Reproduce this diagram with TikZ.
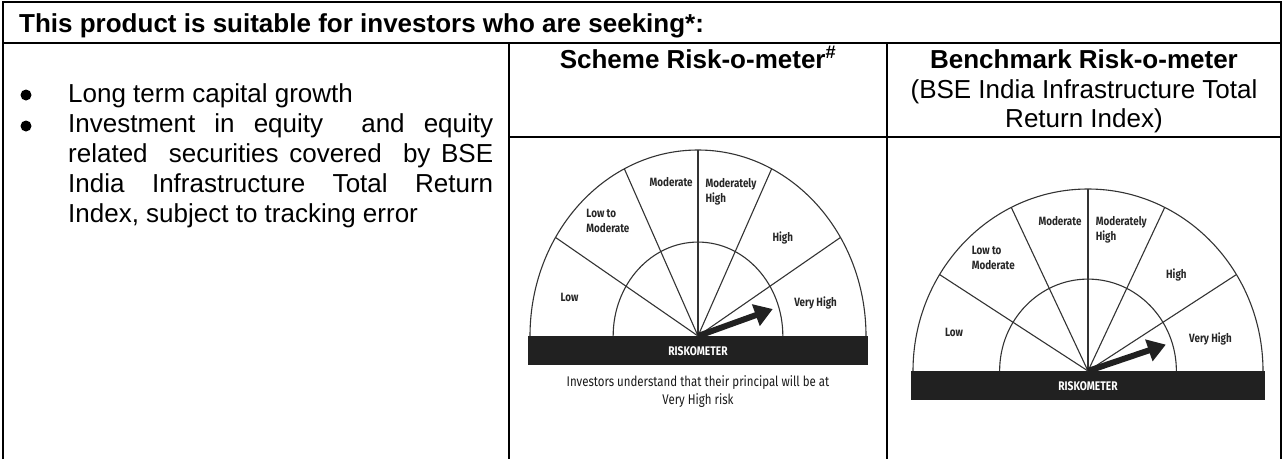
\documentclass[tikz,border=0pt]{standalone}
\usepackage{fontspec}
\setmainfont{Liberation Sans}
\newfontfamily\meterfont[FakeStretch=0.82]{Fira Sans}
\usetikzlibrary{arrows.meta,positioning}

\tikzset{
  headtext/.style={font=\bfseries\fontsize{26}{30}\selectfont, inner sep=0pt},
  bodytext/.style={font=\fontsize{26}{30}\selectfont, inner sep=0pt},
  listdot/.style={circle, fill=black, inner sep=0pt, minimum size=11pt},
  tableline/.style={line width=2pt},
  meterline/.style={draw=black!80, line width=1.1pt},
  meterlabel/.style={font=\meterfont\bfseries\fontsize{12}{15}\selectfont, text=black!85, inner sep=0pt, align=left},
  barlabel/.style={font=\meterfont\bfseries\fontsize{12.5}{15}\selectfont, text=white, inner sep=0pt},
  captext/.style={font=\meterfont\fontsize{14}{17}\selectfont, text=black!90, inner sep=0pt},
  meterbar/.style={fill=black!87},
  meterneedle/.style={draw=black!87, line width=6pt, -{Triangle[length=18pt,width=22pt]}}
}

% #1 name, #2 #3 centre, #4 #5 radii
\newcommand{\riskometer}[5]{%
\begin{scope}[shift={(#2,#3)}, x=#4pt, y=#5pt]
  \coordinate (#1-c) at (0,0);
  \fill[meterbar] (-1.01,0) rectangle (1.01,{-29/#5});
  \draw[meterline] (-1,0) arc[start angle=180, end angle=0, radius=1];
  \draw[meterline] (-0.505,0) arc[start angle=180, end angle=0, radius=0.505];
  \foreach \a in {32,64,90,116,148}
    \draw[meterline] (#1-c) -- ({cos(\a)},{sin(\a)});
  \node[meterlabel] (#1-low) at (-0.765,0.21) {Low};
  \node[meterlabel, anchor=west] (#1-ltm) at (-0.665,0.62) {Low to\\Moderate};
  \node[meterlabel] (#1-mod) at (-0.16,0.826) {Moderate};
  \node[meterlabel, anchor=west] (#1-mh) at (0.044,0.775) {Moderately\\High};
  \node[meterlabel] (#1-high) at (0.505,0.525) {High};
  \node[meterlabel] (#1-vh) at (0.70,0.177) {Very High};
  \coordinate (#1-tip) at (0.445,0.145);
  \draw[meterneedle] (#1-c) -- (#1-tip);
  \node[barlabel] (#1-bar) at (0,{-15/#5}) {RISKOMETER};
\end{scope}}

\begin{document}
\begin{tikzpicture}[x=1pt, y=-1pt]
\useasboundingbox (0,0) rectangle (1283,459);

% table
\draw[tableline] (3,459) -- (3,2) -- (1281,2) -- (1281,459);
\draw[tableline] (3,43) -- (1281,43);
\draw[tableline] (509,43) -- (509,459);
\draw[tableline] (887,43) -- (887,459);
\draw[tableline] (509,137) -- (1281,137);

% headings
\node[headtext, anchor=base west] (title) at (19,32) {This product is suitable for investors who are seeking*:};
\node[headtext, anchor=base] (schhead) at (698,68) {Scheme Risk-o-meter\textsuperscript{\#}};
\node[headtext, anchor=base] (bmhead) at (1084,68) {Benchmark Risk-o-meter};
\node[bodytext, anchor=base] (bmidx1) at (1084,98) {(BSE India Infrastructure Total};
\node[bodytext, anchor=base] (bmidx2) at (1084,127) {Return Index)};

% bullet list
\node[listdot] (dot1) at (26,95) {};
\node[listdot] (dot2) at (26,126) {};
\node[bodytext, anchor=base west] (item1) at (68,102) {Long term capital growth};
\node[bodytext, anchor=base west] (item2a) at (68,132) {\makebox[425pt][s]{Investment in equity\ \ and equity}};
\node[bodytext, anchor=base west] (item2b) at (68,162) {\makebox[425pt][s]{related\ \ securities covered\ \ by BSE}};
\node[bodytext, anchor=base west] (item2c) at (68,192) {\makebox[425pt][s]{India Infrastructure Total Return}};
\node[bodytext, anchor=base west] (item2d) at (68,222) {Index, subject to tracking error};

% meters
\riskometer{sch}{698}{336}{168}{186}
\riskometer{bm}{1088}{371}{175}{182}

\node[captext] (cap1) at (698,383) {Investors understand that their principal will be at};
\node[captext, below=3pt of cap1] (cap2) {Very High risk};

\end{tikzpicture}
\end{document}
